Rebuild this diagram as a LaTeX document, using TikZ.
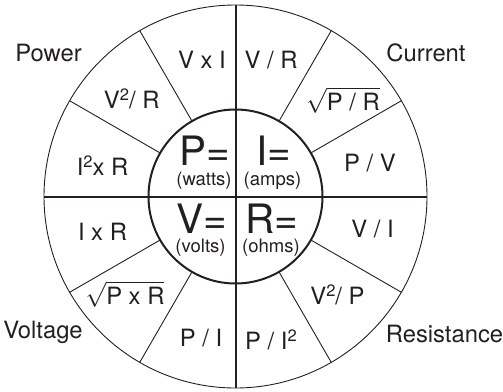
\documentclass[tikz,border=0pt]{standalone}
\usepackage{fontspec}
\setmainfont{TeX Gyre Heros}
\definecolor{ink}{RGB}{35,31,32}
\newcommand\supTwo{\raisebox{8pt}{\fontsize{16.5}{17}\selectfont 2}}
\begin{document}
\begin{tikzpicture}[x=1pt,y=-1pt, color=ink,
  lbl/.style={font=\fontsize{23.8}{26}\selectfont, inner sep=0pt, anchor=base},
  frm/.style={font=\fontsize{23.8}{26}\selectfont, inner sep=0pt, anchor=base},
  big/.style={font=\fontsize{40.5}{42}\selectfont, inner sep=0pt, anchor=base, text depth=0pt},
  unit/.style={font=\fontsize{18.5}{20}\selectfont, inner sep=0pt, anchor=base, text height=10pt},
  thin/.style={line width=0.9pt},
  thick/.style={line width=2pt}]
\useasboundingbox (0,0) rectangle (503,391);
\coordinate (O) at (235.5,196.5);
% outer circle and spokes
\draw[thin] (O) circle (191.5);
\foreach \a in {30,60,120,150,210,240,300,330}
  \draw[thin, shift={(O)}] (\a:87) -- (\a:191.5);
% main axes
\draw[thick] (235.5,5) -- (235.5,388);
\draw[thick] (44,196.5) -- (427,196.5);
% inner circle
\draw[thick] (O) circle (87);
% quadrant labels
\node[lbl] (power) at (48.5,61) {Power};
\node[lbl] (current) at (426,61.5) {Current};
\node[lbl] (voltage) at (43,338) {Voltage};
\node[lbl] (resist) at (444.5,342.5) {Resistance};
% formulas
\node[frm] (f1) at (202,68.3) {V x I};
\node[frm] (f2) at (271,68.3) {V / R};
\node[frm] (f3) at (131.7,108.3) {V\supTwo/ R};
\node[frm] (f4) at (343,110) {$\sqrt{\hbox{P / R}}$};
\node[frm] (f5) at (102.5,175) {I\supTwo x R};
\node[frm] (f6) at (370,171.7) {P / V};
\node[frm] (f7) at (102.5,240.7) {I x R};
\node[frm] (f8) at (372.5,237.3) {V / I};
\node[frm] (f9) at (125,304) {$\sqrt{\hbox{P x R}}$};
\node[frm] (f10) at (337.5,304) {V\supTwo/ P};
\node[frm] (f11) at (201,346.7) {P / I};
\node[frm] (f12) at (271,349) {P / I\supTwo};
% center
\node[big] (P) at (205,165) {P=};
\node[big] (I) at (274,165) {I=};
\node[big] (V) at (201.7,233) {V=};
\node[big] (R) at (272,233) {R=};
\node[unit] (watts) at (204,185.5) {(watts)};
\node[unit] (amps) at (272.5,185.5) {(amps)};
\node[unit] (volts) at (200.5,252) {(volts)};
\node[unit] (ohms) at (271,252) {(ohms)};
\end{tikzpicture}
\end{document}
